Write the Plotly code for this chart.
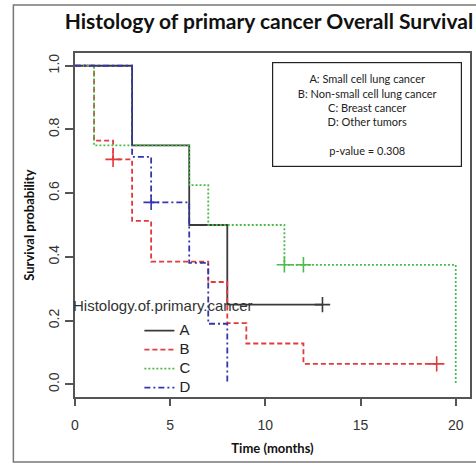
import plotly.graph_objects as go

# ---- data ----
groups = ["A", "B", "C", "D"]

time_A = [0, 3, 6, 8, 13]
surv_A = [1.0, 0.75, 0.5, 0.25, 0.25]
cens_time_A = [13]
cens_surv_A = [0.25]

time_B = [0, 1, 2, 3, 4, 7, 8, 9, 12, 19]
surv_B = [1.0, 0.765, 0.706, 0.513, 0.385, 0.321, 0.192, 0.128, 0.064, 0.064]
cens_time_B = [2, 19]
cens_surv_B = [0.706, 0.064]

time_C = [0, 1, 6, 7, 11, 20]
surv_C = [1.0, 0.75, 0.625, 0.5, 0.375, 0.0]
cens_time_C = [11, 12]
cens_surv_C = [0.375, 0.375]

time_D = [0, 3, 4, 6, 7, 8]
surv_D = [1.0, 0.714, 0.571, 0.381, 0.19, 0.0]
cens_time_D = [4]
cens_surv_D = [0.571]

x_ticks = [0, 5, 10, 15, 20]
y_ticks = [0.0, 0.2, 0.4, 0.6, 0.8, 1.0]
y_ticklabels = ["0.0", "0.2", "0.4", "0.6", "0.8", "1.0"]

box_lines = ["A: Small cell lung cancer", "B: Non-small cell lung cancer",
             "C: Breast cancer", "D: Other tumors", "", "p-value = 0.308"]

# ---- styles ----
colors = {"A": "#3a3a3a", "B": "#e03a3a", "C": "#4cbb4c", "D": "#3535b0"}
dashes = {"A": "solid", "B": "5px,3px", "C": "2px,2px", "D": "6px,3px,2px,3px"}

series = {
    "A": (time_A, surv_A, cens_time_A, cens_surv_A),
    "B": (time_B, surv_B, cens_time_B, cens_surv_B),
    "C": (time_C, surv_C, cens_time_C, cens_surv_C),
    "D": (time_D, surv_D, cens_time_D, cens_surv_D),
}

fig = go.Figure()
for g in groups:
    t, s, ct, cs = series[g]
    fig.add_trace(go.Scatter(
        x=t, y=s, mode="lines", line_shape="hv", name=f'<span style="font-size:15px">{g}</span>',
        line=dict(color=colors[g], width=1.8, dash=dashes[g]),
        showlegend=True,
    ))
    fig.add_trace(go.Scatter(
        x=ct, y=cs, mode="markers", showlegend=False,
        marker=dict(symbol="cross-thin", size=11, line=dict(color=colors[g], width=1.6)),
    ))

axis_color = "#555555"
fig.update_xaxes(
    range=[0, 20.75], tickvals=x_ticks, ticks="outside", ticklen=7, tickwidth=1.5,
    tickcolor=axis_color, showline=True, mirror=True, linecolor=axis_color, linewidth=1.5,
    showgrid=False, zeroline=False,
    tickfont=dict(family="Liberation Sans, Arial", size=14, color="#333333"),
    ticklabelstandoff=7,
    title=dict(text="<b>Time (months)</b>", font=dict(family="Lato", size=13, color="#111111"),
               standoff=12),
)
fig.update_yaxes(
    range=[-0.04, 1.04], tickvals=y_ticks, ticktext=y_ticklabels, tickangle=-90,
    ticks="outside", ticklen=8, tickwidth=1.5, tickcolor=axis_color,
    showline=True, mirror=True, linecolor=axis_color, linewidth=1.5,
    showgrid=False, zeroline=False,
    tickfont=dict(family="Liberation Sans, Arial", size=14, color="#333333"),
    ticklabelstandoff=1,
    title=dict(text="<b>Survival probability</b>", font=dict(family="Lato", size=13, color="#111111"),
               standoff=8),
)

fig.add_annotation(
    xref="paper", yref="paper", x=0.738, y=0.821, xanchor="center", yanchor="middle",
    text="<br>".join(box_lines), showarrow=False, align="center",
    font=dict(family="Lato", size=11, color="#222222"),
    width=186, height=101, bordercolor="#222222", borderwidth=1.2, borderpad=1,
    bgcolor="white",
)
fig.add_annotation(
    xref="paper", yref="paper", x=0.224, y=0.267, xanchor="center", yanchor="middle",
    text="Histology.of.primary.cancer", showarrow=False,
    font=dict(family="Liberation Sans, Arial", size=15, color="#333333"),
)
fig.add_shape(type="rect", xref="paper", yref="paper", x0=-0.156, x1=1.03, y0=-0.189, y1=1.1395,
              line=dict(color="#777777", width=1.5), layer="below")

fig.update_layout(
    width=476, height=464,
    margin=dict(l=75, r=4, t=53, b=67),
    paper_bgcolor="white", plot_bgcolor="white",
    title=dict(text="<b>Histology of primary cancer Overall Survival</b>",
               x=0.565, xanchor="center", y=0.954, yanchor="middle", yref="container",
               font=dict(family="Lato", size=21, color="#111111")),
    legend=dict(x=0.163, xanchor="left", y=0.235, yanchor="top",
                bgcolor="rgba(0,0,0,0)", borderwidth=0,
                font=dict(family="Liberation Sans, Arial", size=12, color="#222222"),
                tracegroupgap=0),
)

fig.write_html("out.html", config={"displayModeBar": False},
               post_script="document.body.style.margin='0';document.body.style.padding='0';")
